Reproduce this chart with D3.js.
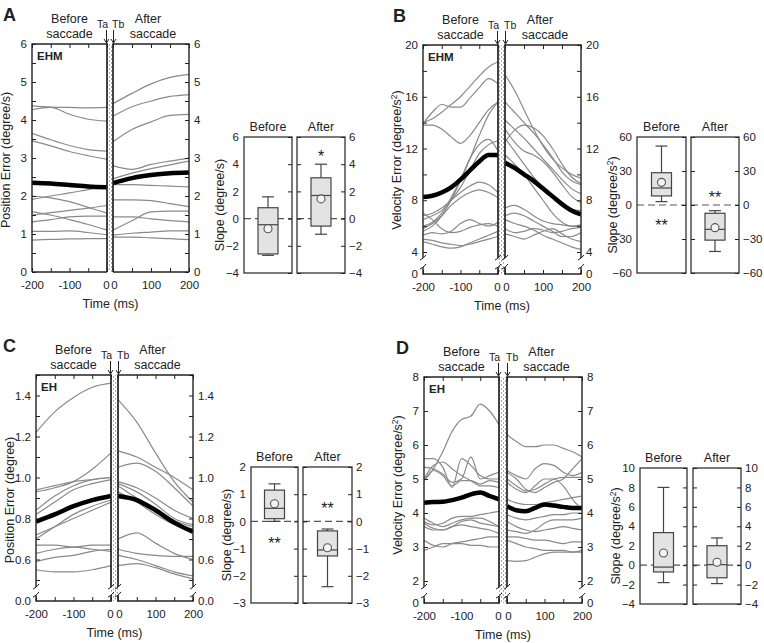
<!DOCTYPE html>
<html><head><meta charset="utf-8">
<script src="https://cdn.jsdelivr.net/npm/d3@7"></script>
<style>
body{margin:0;background:#fff}
svg{display:block}
text{font-family:"Liberation Sans",Arial,sans-serif;fill:#222}
</style>
</head><body>
<svg id="c" width="764" height="643"></svg>
<script>
// ---------------- DATA ----------------
const tBefore5 = [-200,-150,-100,-50,0];
const tAfter5 = [0,50,100,150,200];
const tBefore9 = [-200,-175,-150,-125,-100,-75,-50,-25,0];
const tAfter9 = [0,25,50,75,100,125,150,175,200];
const xTicksBefore = [-200,-150,-100,-50,0];
const xTicksAfter = [0,50,100,150,200];

// Panel A: position error (degree/s), EHM
const aBefore = [
 [4.37,4.34,4.33,4.32,4.33],
 [4.27,4.33,4.15,4.02,3.97],
 [3.65,3.48,3.33,3.22,3.18],
 [3.45,3.32,3.17,3.06,2.97],
 [2.0,1.95,1.85,1.7,1.55],
 [1.91,2.0,2.08,2.17,2.25],
 [1.59,1.5,1.38,1.25,1.1],
 [1.5,1.56,1.62,1.68,1.75],
 [1.32,1.38,1.45,1.47,1.47],
 [1.07,1.07,1.08,1.04,0.98],
 [0.84,0.86,0.87,0.88,0.88]
];
const aBeforeMean = [2.35,2.33,2.29,2.25,2.23];
const aAfter = [
 [4.43,4.7,4.95,5.12,5.2],
 [4.1,4.35,4.5,4.62,4.67],
 [3.43,3.75,3.95,4.12,4.15],
 [2.8,2.7,2.83,2.92,3.0],
 [2.45,2.6,2.72,2.82,2.92],
 [2.3,2.3,2.28,2.26,2.24],
 [1.9,1.9,1.88,1.8,1.72],
 [1.1,1.35,1.58,1.6,1.6],
 [1.45,1.45,1.4,1.35,1.32],
 [0.97,1.02,1.05,1.08,1.08],
 [0.92,0.92,0.9,0.88,0.85]
];
const aAfterMean = [2.34,2.47,2.55,2.6,2.62];
const aYLabels = [0,1,2,3,4,5,6];

// Panel B: velocity error (degree/s^2), EHM
const bBefore = [
 [14.0,14.3,14.8,15.4,16.0,16.8,17.6,18.3,18.7],
 [13.9,14.8,15.4,15.2,15.2,15.9,16.7,17.4,17.0],
 [13.8,13.8,13.5,12.9,12.4,13.0,14.0,15.0,15.6],
 [6.0,6.3,7.0,8.2,9.6,11.2,12.3,12.7,11.8],
 [5.6,6.0,6.8,8.0,9.5,11.2,13.0,14.6,15.6],
 [6.5,6.8,7.2,8.0,9.0,10.3,11.6,12.3,12.6],
 [6.8,7.0,7.4,8.0,8.6,9.1,9.4,9.2,8.6],
 [5.8,6.2,6.8,7.6,8.2,8.6,8.8,8.6,8.2],
 [5.3,5.5,5.4,5.6,6.2,6.5,6.2,6.0,6.3],
 [4.8,4.6,4.4,4.3,4.4,4.7,5.0,5.3,5.6],
 [5.0,4.9,4.7,4.6,4.5,4.6,4.8,5.0,5.2],
 [7.0,6.5,5.8,5.5,5.6,5.9,6.1,6.2,6.0]
];
const bBeforeMean = [8.25,8.35,8.6,9.0,9.6,10.3,11.0,11.5,11.5];
const bAfter = [
 [17.7,16.5,15.0,13.5,12.2,11.2,10.5,10.0,9.7],
 [15.6,14.8,14.0,13.2,12.3,11.3,10.2,9.5,9.2],
 [12.5,13.4,13.8,13.6,13.0,12.0,10.8,9.8,9.3],
 [14.2,13.5,12.8,12.0,11.2,10.4,9.6,8.9,8.5],
 [13.5,12.5,11.8,11.5,11.0,10.2,9.2,8.3,7.8],
 [12.8,11.8,10.8,9.8,9.0,8.3,7.8,7.3,7.2],
 [11.5,10.8,10.0,9.0,8.0,7.0,6.3,6.0,6.0],
 [7.4,7.6,7.3,6.8,6.4,6.2,6.1,6.0,6.1],
 [6.5,6.2,6.0,5.7,5.3,5.0,4.7,4.4,4.2],
 [5.8,5.5,5.6,5.8,5.7,5.5,5.6,5.8,5.9],
 [5.4,5.2,5.0,5.3,5.6,5.8,5.4,5.0,4.8],
 [6.8,7.0,6.8,6.4,6.0,5.6,5.2,5.2,5.5]
];
const bAfterMean = [10.9,10.5,10.0,9.5,8.9,8.3,7.7,7.2,6.9];
const bYLabels = [4,8,12,16,20];

// Panel C: position error (degree), EH
const cBefore = [
 [1.22,1.32,1.39,1.44,1.46],
 [0.93,0.95,0.98,1.04,1.12],
 [0.94,0.96,0.98,0.99,1.0],
 [0.84,0.91,0.96,0.99,1.0],
 [0.82,0.88,0.94,0.97,0.99],
 [0.72,0.76,0.80,0.84,0.88],
 [0.70,0.76,0.82,0.86,0.89],
 [0.67,0.67,0.66,0.67,0.67],
 [0.63,0.65,0.66,0.65,0.64],
 [0.59,0.61,0.62,0.64,0.65],
 [0.55,0.54,0.54,0.55,0.57]
];
const cBeforeMean = [0.785,0.82,0.86,0.89,0.91];
const cAfter = [
 [1.38,1.27,1.12,0.98,0.88],
 [1.13,1.10,1.05,1.0,0.94],
 [1.05,1.07,1.03,0.95,0.86],
 [0.98,0.95,0.9,0.84,0.8],
 [0.97,0.93,0.87,0.8,0.77],
 [0.96,0.90,0.85,0.79,0.76],
 [0.93,0.88,0.82,0.77,0.75],
 [0.70,0.73,0.68,0.63,0.60],
 [0.65,0.63,0.62,0.615,0.615],
 [0.62,0.60,0.57,0.54,0.52],
 [0.57,0.58,0.56,0.53,0.505]
];
const cAfterMean = [0.91,0.89,0.84,0.78,0.735];
const cYLabels = [0.6,0.8,1.0,1.2,1.4];

// Panel D: velocity error (degree/s^2), EH
const dBefore = [
 [4.95,5.3,5.8,6.4,6.75,6.85,7.2,7.0,6.6],
 [5.6,5.6,5.35,4.75,5.6,5.4,5.1,5.0,5.0],
 [5.35,5.3,5.15,4.9,5.0,5.65,5.0,5.1,5.2],
 [4.95,5.25,5.1,4.8,4.95,4.95,4.85,4.95,4.9],
 [5.0,5.4,5.5,5.3,5.1,4.95,4.8,4.8,4.75],
 [3.85,3.7,3.6,3.7,3.8,3.85,3.85,3.75,3.6],
 [3.75,3.65,3.7,3.85,3.9,3.9,3.95,4.0,4.05],
 [3.6,3.5,3.5,3.6,3.65,3.6,3.55,3.5,3.4],
 [3.2,3.05,3.0,3.1,3.15,3.2,3.25,3.3,3.3],
 [2.9,3.0,3.1,3.1,3.1,3.05,3.05,3.0,3.0],
 [3.7,3.55,3.5,3.6,3.75,3.8,3.7,3.65,3.6]
];
const dBeforeMean = [4.3,4.32,4.33,4.38,4.45,4.55,4.6,4.5,4.4];
const dAfter = [
 [6.3,6.1,5.95,5.95,6.0,6.0,5.9,5.8,5.65],
 [5.25,5.1,5.0,5.3,5.45,5.4,5.2,5.1,5.2],
 [5.2,5.0,4.7,4.6,4.75,4.9,5.0,5.3,5.6],
 [5.0,4.8,4.65,4.7,4.85,5.0,5.05,5.05,5.05],
 [4.9,4.7,4.6,4.8,5.0,5.0,4.8,4.4,4.1],
 [4.4,4.3,4.25,4.25,4.3,4.35,4.4,4.45,4.5],
 [3.95,3.85,3.8,3.85,3.9,3.95,3.95,4.0,4.0],
 [3.75,3.6,3.5,3.45,3.5,3.55,3.6,3.55,3.5],
 [3.5,3.45,3.4,3.5,3.7,3.8,3.8,3.8,3.85],
 [3.2,3.1,3.0,2.95,2.9,2.9,2.9,2.85,2.85],
 [2.6,2.58,2.6,2.7,2.8,2.85,2.85,2.85,2.9],
 [3.3,3.3,3.25,3.2,3.2,3.15,3.1,3.15,3.15]
];
const dAfterMean = [4.2,4.08,4.05,4.15,4.25,4.22,4.18,4.15,4.15];
const dYLabels = [2,3,4,5,6,7,8];

// Slope box plots: [min, q1, median, q3, max, mean]
const aSlopeBefore = [-2.7,-2.6,-0.45,0.8,1.6,-0.75];
const aSlopeAfter  = [-1.15,-0.55,1.7,3.0,4.0,1.45];
const bSlopeBefore = [3,8,15,28.5,52,20];
const bSlopeAfter  = [-41,-31,-21.5,-7.3,-5,-20];
const cSlopeBefore = [0,0.1,0.48,1.15,1.38,0.65];
const cSlopeAfter  = [-2.4,-1.27,-1.05,-0.35,-0.28,-0.97];
const dSlopeBefore = [-1.8,-0.7,-0.2,3.35,8.0,1.25];
const dSlopeAfter  = [-1.9,-1.3,0.05,2.0,2.8,0.3];
const aSlopeTicks = [-4,-2,0,2,4,6];
const bSlopeTicks = [-60,-30,0,30,60];
const cSlopeTicks = [-3,-2,-1,0,1,2];
const dSlopeTicks = [-4,-2,0,2,4,6,8,10];
// significance marks: [text, side(0 before/1 after), value]
const aStars = [["*",1,4.85]];
const bStars = [["**",0,-15],["**",1,10]];
const cStars = [["**",0,-0.68],["**",1,0.6]];
const dStars = [];

// ---------------- DRAWING ----------------
const svg = d3.select("#c");
const defs = svg.append("defs");
const pat = defs.append("pattern").attr("id","dots").attr("patternUnits","userSpaceOnUse")
  .attr("width",4).attr("height",4);
pat.append("rect").attr("width",4).attr("height",4).attr("fill","#fff");
pat.append("rect").attr("x",1).attr("y",0.5).attr("width",0.9).attr("height",0.9).attr("fill","#333");
pat.append("rect").attr("x",3).attr("y",2.5).attr("width",0.9).attr("height",0.9).attr("fill","#333");

const FS = 11.5;
const FRAME = "#222";

function styleAxis(sel){
  sel.select(".domain").remove();
  sel.selectAll(".tick line").attr("stroke",FRAME).attr("stroke-width",1);
  sel.selectAll(".tick text").attr("font-size",FS).attr("fill","#222")
    .attr("font-family",'"Liberation Sans",Arial,sans-serif');
}

function vline(g,x,y1,y2,w){
  g.append("line").attr("x1",x).attr("x2",x).attr("y1",y1).attr("y2",y2)
   .attr("stroke",FRAME).attr("stroke-width",w);
}
function hline(g,x1,x2,y,w){
  g.append("line").attr("x1",x1).attr("x2",x2).attr("y1",y).attr("y2",y)
   .attr("stroke",FRAME).attr("stroke-width",w);
}

function ylabel(g,x,y,main,sup,tail){
  const t = g.append("text").attr("transform",`translate(${x},${y}) rotate(-90)`)
    .attr("text-anchor","middle").attr("font-size",12.5);
  t.append("tspan").text(main);
  if(sup){
    t.append("tspan").attr("dy",-4).attr("font-size",8.5).text(sup);
    t.append("tspan").attr("dy",4).text(tail);
  }
}

function timePanel(o){
  const g = svg.append("g");
  const top = o.rng[1], bottom = o.bottom;
  const xB = d3.scaleLinear([-200,0],[o.x0,o.xb]);
  const xA = d3.scaleLinear([0,200],[o.xa,o.x1]);
  const y = d3.scaleLinear(o.dom,o.rng);
  const gapTop = o.gap ? o.gap[0] : bottom;
  const gapBot = o.gap ? o.gap[1] : bottom;

  // dotted strip
  g.append("rect").attr("x",o.xb).attr("y",top).attr("width",o.xa-o.xb)
    .attr("height",bottom-top).attr("fill","url(#dots)");

  // clip
  const cid = "clip"+o.id;
  const cp = defs.append("clipPath").attr("id",cid);
  cp.append("rect").attr("x",o.x0).attr("y",top).attr("width",o.xb-o.x0).attr("height",gapTop-top);
  cp.append("rect").attr("x",o.xa).attr("y",top).attr("width",o.x1-o.xa).attr("height",gapTop-top);
  const lg = g.append("g").attr("clip-path",`url(#${cid})`);

  const lineB = d3.line().x((d,i)=>xB(o.tB[i])).y(d=>y(d)).curve(d3.curveMonotoneX);
  const lineA = d3.line().x((d,i)=>xA(o.tA[i])).y(d=>y(d)).curve(d3.curveMonotoneX);
  lg.selectAll(".gb").data(o.before).join("path").attr("d",lineB)
    .attr("fill","none").attr("stroke","#8a8a8a").attr("stroke-width",1.2);
  lg.selectAll(".ga").data(o.after).join("path").attr("d",lineA)
    .attr("fill","none").attr("stroke","#8a8a8a").attr("stroke-width",1.2);
  lg.append("path").datum(o.beforeMean).attr("d",lineB).attr("fill","none")
    .attr("stroke","#000").attr("stroke-width",4.5);
  lg.append("path").datum(o.afterMean).attr("d",lineA).attr("fill","none")
    .attr("stroke","#000").attr("stroke-width",4.5);

  // y ticks (minor + labelled)
  const lblSet = new Set(o.yLabels.map(v=>+v.toFixed(3)));
  const fmt = v => lblSet.has(+v.toFixed(3)) ? d3.format(o.fmt)(v) : "";
  const axL = g.append("g").attr("transform",`translate(${o.x0},0)`)
    .call(d3.axisLeft(y).tickValues(o.yTicks).tickSize(-4).tickPadding(5).tickFormat(fmt));
  styleAxis(axL);
  const axR = g.append("g").attr("transform",`translate(${o.x1},0)`)
    .call(d3.axisRight(y).tickValues(o.yTicks).tickSize(-4).tickPadding(5).tickFormat(fmt));
  styleAxis(axR);
  if(o.gap){
    const y0 = d3.scaleLinear([0,1],[bottom,bottom-10]);
    const a0 = g.append("g").attr("transform",`translate(${o.x0},0)`)
      .call(d3.axisLeft(y0).tickValues([0]).tickSize(0).tickPadding(5).tickFormat(d3.format(o.fmt)));
    styleAxis(a0);
    const a1 = g.append("g").attr("transform",`translate(${o.x1},0)`)
      .call(d3.axisRight(y0).tickValues([0]).tickSize(0).tickPadding(5).tickFormat(d3.format(o.fmt)));
    styleAxis(a1);
  }

  // x axes
  const xf = d => (d % 100 === 0) ? d : "";
  const bxB = g.append("g").attr("transform",`translate(0,${bottom})`)
    .call(d3.axisBottom(xB).tickValues(xTicksBefore).tickSize(-4).tickPadding(9).tickFormat(xf));
  styleAxis(bxB);
  bxB.selectAll(".tick text").filter(d=>d===0).attr("dx",-1);
  const bxA = g.append("g").attr("transform",`translate(0,${bottom})`)
    .call(d3.axisBottom(xA).tickValues(xTicksAfter).tickSize(-4).tickPadding(9).tickFormat(xf));
  styleAxis(bxA);
  bxA.selectAll(".tick text").filter(d=>d===0).attr("dx",1);
  const txB = g.append("g").attr("transform",`translate(0,${top})`)
    .call(d3.axisTop(xB).tickValues(xTicksBefore).tickSize(-4).tickFormat(""));
  styleAxis(txB);
  const txA = g.append("g").attr("transform",`translate(0,${top})`)
    .call(d3.axisTop(xA).tickValues(xTicksAfter).tickSize(-4).tickFormat(""));
  styleAxis(txA);

  // frame
  [[o.x0,1.4],[o.xb,1.7],[o.xa,1.7],[o.x1,1.4]].forEach(([x,w])=>{
    vline(g,x,top-0.7,gapTop,w);
    if(o.gap) vline(g,x,gapBot,bottom+0.7,w);
  });
  hline(g,o.x0,o.xb,top,1.4); hline(g,o.xa,o.x1,top,1.4);
  hline(g,o.x0,o.xb,bottom,1.4); hline(g,o.xa,o.x1,bottom,1.4);
  if(o.gap){
    [o.x0,o.xb,o.xa,o.x1].forEach(x=>{
      [gapTop,gapBot].forEach(gy=>{
        g.append("path").attr("d",`M${x-3},${gy+2} Q${x},${gy+1} ${x+3},${gy-3}`)
          .attr("fill","none").attr("stroke",FRAME).attr("stroke-width",1);
      });
    });
  }

  // labels
  const cb = (o.x0+o.xb)/2, ca = (o.xa+o.x1)/2;
  g.append("text").attr("x",cb).attr("y",top-21).attr("text-anchor","middle").attr("font-size",12.5).text("Before");
  g.append("text").attr("x",cb).attr("y",top-6).attr("text-anchor","middle").attr("font-size",12.5).text("saccade");
  g.append("text").attr("x",ca-3).attr("y",top-21).attr("text-anchor","middle").attr("font-size",12.5).text("After");
  g.append("text").attr("x",ca+2).attr("y",top-6).attr("text-anchor","middle").attr("font-size",12.5).text("saccade");
  g.append("text").attr("x",o.xb+1).attr("y",top-16).attr("text-anchor","end").attr("font-size",10.5).text("Ta");
  g.append("text").attr("x",o.xa-1).attr("y",top-16).attr("text-anchor","start").attr("font-size",10.5).text("Tb");
  [o.xb-0.5,o.xa+0.5].forEach(x=>{
    g.append("line").attr("x1",x).attr("x2",x).attr("y1",top-14).attr("y2",top-2)
      .attr("stroke","#222").attr("stroke-width",1);
    g.append("path").attr("d",`M${x-2.5},${top-5} L${x},${top-1} L${x+2.5},${top-5}`)
      .attr("fill","none").attr("stroke","#222").attr("stroke-width",1);
  });
  g.append("text").attr("x",o.x0+5).attr("y",top+16).attr("font-weight","bold").attr("font-size",11.5).text(o.tag);
  g.append("text").attr("x",o.letterX).attr("y",top-23).attr("font-weight","bold").attr("font-size",18).text(o.letter);
  g.append("text").attr("x",(o.x0+o.x1)/2).attr("y",bottom+36).attr("text-anchor","middle").attr("font-size",12.5).text("Time (ms)");
  ylabel(g,o.x0-22,o.ylabY,o.ylab[0],o.ylab[1],o.ylab[2]);
}

function boxPanel(o){
  const g = svg.append("g");
  const y = d3.scaleLinear(o.dom,[o.bottom,o.top]);
  const parts = [[o.bx0,o.bx1,o.before,"Before"],[o.ax0,o.ax1,o.after,"After"]];
  parts.forEach(([x0,x1,s,lab],k)=>{
    const cx = (x0+x1)/2, bw = 20, cw = 12;
    g.append("line").attr("x1",x0).attr("x2",x1).attr("y1",y(0)).attr("y2",y(0))
      .attr("stroke","#555").attr("stroke-width",1.2).attr("stroke-dasharray","7,4");
    g.append("line").attr("x1",cx).attr("x2",cx).attr("y1",y(s[0])).attr("y2",y(s[4]))
      .attr("stroke","#444").attr("stroke-width",1.2);
    [s[0],s[4]].forEach(v=>g.append("line").attr("x1",cx-cw/2).attr("x2",cx+cw/2)
      .attr("y1",y(v)).attr("y2",y(v)).attr("stroke","#444").attr("stroke-width",1.2));
    g.append("rect").attr("x",cx-bw/2).attr("width",bw).attr("y",y(s[3])).attr("height",y(s[1])-y(s[3]))
      .attr("fill","#e3e3e3").attr("stroke","#444").attr("stroke-width",1.2);
    g.append("line").attr("x1",cx-bw/2).attr("x2",cx+bw/2).attr("y1",y(s[2])).attr("y2",y(s[2]))
      .attr("stroke","#444").attr("stroke-width",1.2);
    g.append("circle").attr("cx",cx).attr("cy",y(s[5])).attr("r",4)
      .attr("fill","#f4f4f4").attr("stroke","#555").attr("stroke-width",1.1);
    g.append("rect").attr("x",x0).attr("y",o.top).attr("width",x1-x0).attr("height",o.bottom-o.top)
      .attr("fill","none").attr("stroke","#333").attr("stroke-width",1.3);
    g.append("text").attr("x",cx).attr("y",o.top-6).attr("text-anchor","middle").attr("font-size",12.5).text(lab);
  });
  const fmt = d3.format("d");
  const axL = g.append("g").attr("transform",`translate(${o.bx0},0)`)
    .call(d3.axisLeft(y).tickValues(o.ticks).tickSize(0).tickPadding(5).tickFormat(fmt));
  styleAxis(axL);
  const axR = g.append("g").attr("transform",`translate(${o.ax1},0)`)
    .call(d3.axisRight(y).tickValues(o.ticks).tickSize(-4).tickPadding(4).tickFormat(fmt));
  styleAxis(axR);
  const axI1 = g.append("g").attr("transform",`translate(${o.bx1},0)`)
    .call(d3.axisRight(y).tickValues(o.ticks).tickSize(-4).tickFormat(""));
  styleAxis(axI1);
  const axI2 = g.append("g").attr("transform",`translate(${o.ax0},0)`)
    .call(d3.axisLeft(y).tickValues(o.ticks).tickSize(-4).tickFormat(""));
  styleAxis(axI2);
  o.stars.forEach(([t,side,v])=>{
    const cx = side===0 ? (o.bx0+o.bx1)/2 : (o.ax0+o.ax1)/2;
    g.append("text").attr("x",cx).attr("y",y(v)+9).attr("text-anchor","middle").attr("font-size",16).text(t);
  });
  ylabel(g,o.bx0-20,(o.top+o.bottom)/2,o.ylab[0],o.ylab[1],o.ylab[2]);
}

// ---- Panel A
timePanel({id:"A",letter:"A",letterX:3,tag:"EHM",x0:32,xb:107,xa:113,x1:189,dom:[0,6],rng:[272,44],bottom:272,
  tB:tBefore5,tA:tAfter5,before:aBefore,after:aAfter,beforeMean:aBeforeMean,afterMean:aAfterMean,
  yTicks:d3.range(0,6.01,0.5),yLabels:aYLabels,fmt:"d",ylab:["Position Error (degree/s)"],ylabY:160});
boxPanel({bx0:244,bx1:292,ax0:297,ax1:345,top:137,bottom:273,dom:[-4,6],ticks:aSlopeTicks,
  before:aSlopeBefore,after:aSlopeAfter,stars:aStars,ylab:["Slope (degree/s)"]});

// ---- Panel B
timePanel({id:"B",letter:"B",letterX:393,tag:"EHM",x0:423,xb:498,xa:505,x1:581,dom:[4,20],rng:[252,45],bottom:274,gap:[258,267],
  tB:tBefore9,tA:tAfter9,before:bBefore,after:bAfter,beforeMean:bBeforeMean,afterMean:bAfterMean,
  yTicks:d3.range(4,20.01,2),yLabels:bYLabels,fmt:"d",ylab:["Velocity Error (degree/s","2",")"],ylabY:160});
boxPanel({bx0:637,bx1:686,ax0:691,ax1:739,top:137,bottom:273,dom:[-60,60],ticks:bSlopeTicks,
  before:bSlopeBefore,after:bSlopeAfter,stars:bStars,ylab:["Slope (degree/s","2",")"]});

// ---- Panel C
timePanel({id:"C",letter:"C",letterX:3,tag:"EH",x0:36,xb:111,xa:118,x1:193,dom:[0.5,1.5],rng:[580,375],bottom:601,gap:[587,595],
  tB:tBefore5,tA:tAfter5,before:cBefore,after:cAfter,beforeMean:cBeforeMean,afterMean:cAfterMean,
  yTicks:d3.range(0.5,1.501,0.1),yLabels:cYLabels,fmt:".1f",ylab:["Position Error (degree)"],ylabY:500});
boxPanel({bx0:251,bx1:298,ax0:303,ax1:352,top:467,bottom:603,dom:[-3,2],ticks:cSlopeTicks,
  before:cSlopeBefore,after:cSlopeAfter,stars:cStars,ylab:["Slope (degree/s)"]});

// ---- Panel D
timePanel({id:"D",letter:"D",letterX:396,tag:"EH",x0:424,xb:499,xa:507,x1:582,dom:[2,8],rng:[581,377],bottom:603,gap:[587,596],
  tB:tBefore9,tA:tAfter9,before:dBefore,after:dAfter,beforeMean:dBeforeMean,afterMean:dAfterMean,
  yTicks:d3.range(2,8.01,1),yLabels:dYLabels,fmt:"d",ylab:["Velocity Error (degree/s","2",")"],ylabY:485});
boxPanel({bx0:640,bx1:687,ax0:693,ax1:741,top:468,bottom:604,dom:[-4,10],ticks:dSlopeTicks,
  before:dSlopeBefore,after:dSlopeAfter,stars:dStars,ylab:["Slope (degree/s","2",")"]});
</script>
</body></html>
